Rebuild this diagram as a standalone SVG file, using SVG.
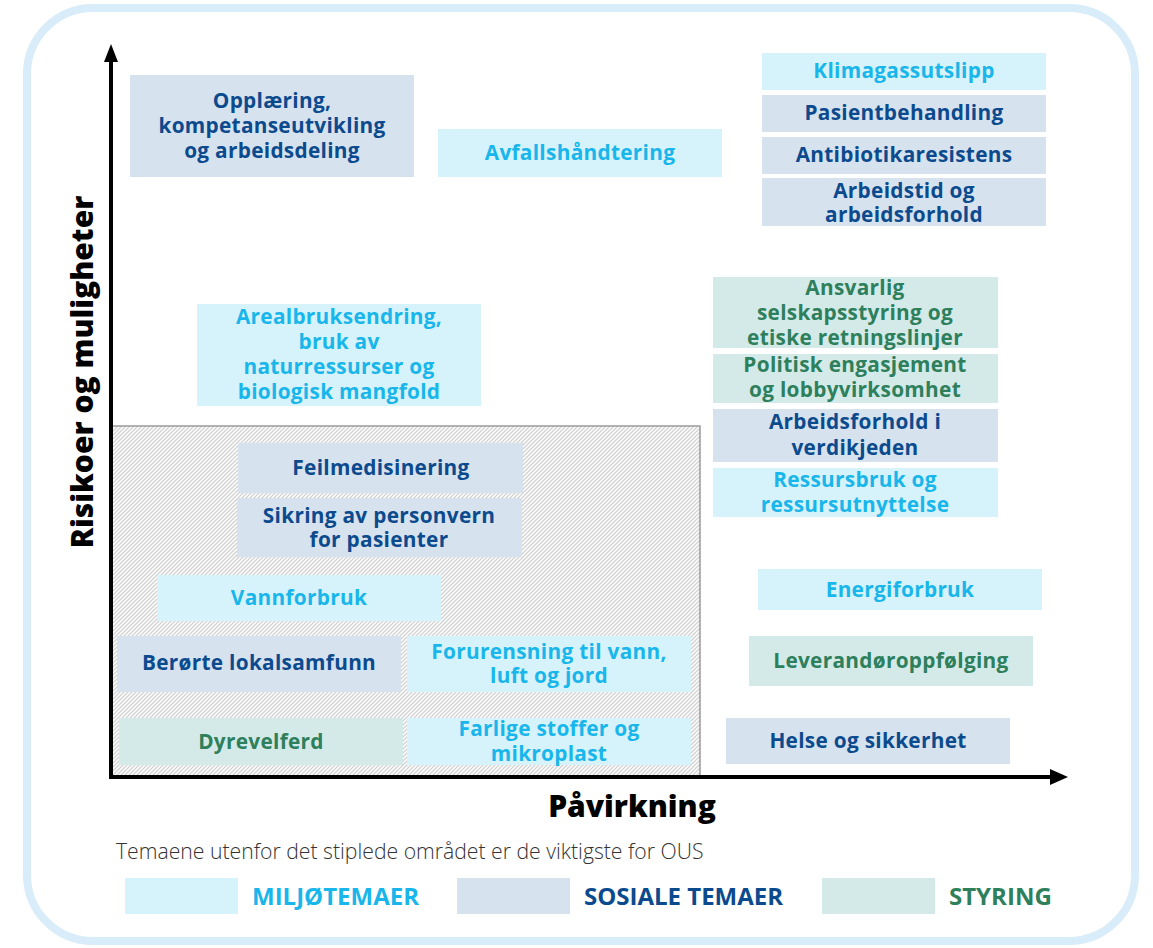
<svg xmlns="http://www.w3.org/2000/svg" width="1153" height="948" viewBox="0 0 1153 948">
<defs>
<style>
.t{font-family:"Open Sans","Liberation Sans",sans-serif;font-weight:700;font-size:20.8px;text-anchor:middle;letter-spacing:0.3px}
.env rect{fill:#d6f2fa}.env text{fill:#18b6ea}
.soc rect{fill:#d6e2ee}.soc text{fill:#0c4a8e}
.gov rect{fill:#d3eae9}.gov text{fill:#2e7f5c}
.ax{stroke:#000;stroke-width:4;fill:none}
.lg{font-family:"Open Sans","Liberation Sans",sans-serif;font-weight:700;font-size:24px}
</style>
<pattern id="hatch" width="4" height="4" patternUnits="userSpaceOnUse">
<rect width="4" height="4" fill="#fff"/>
<path d="M-1,5 L5,-1 M-1,1 L1,-1 M3,5 L5,3" stroke="#d2d2d2" stroke-width="1.3"/>
</pattern>
</defs>
<rect x="0" y="0" width="1153" height="948" fill="#fff"/>
<rect x="27" y="8" width="1108" height="933" rx="66" ry="66" fill="#fff" stroke="#d9ecf9" stroke-width="8"/>

<g id="nonmaterial-zone">
<rect x="111" y="426" width="589" height="350" fill="url(#hatch)" stroke="#9a9a9a" stroke-width="1.5"/>
</g>

<g id="connectors">
<line class="ax" x1="111" y1="778" x2="111" y2="60"/>
<path d="M104,62 L111,44 L118,62 Z" fill="#000"/>
<line class="ax" x1="109" y1="777" x2="1052" y2="777"/>
<path d="M1050,769 L1068,777 L1050,785 Z" fill="#000"/>
</g>

<g id="n1" class="soc"><rect x="130" y="75" width="284" height="102"/>
<text class="t"><tspan x="272" y="108">Opplæring,</tspan><tspan x="272" y="133">kompetanseutvikling</tspan><tspan x="272" y="158">og arbeidsdeling</tspan></text></g>
<g id="n2" class="env"><rect x="438" y="129" width="284" height="48"/>
<text class="t" x="580" y="160">Avfallshåndtering</text></g>
<g id="n3" class="env"><rect x="762" y="53" width="284" height="37"/>
<text class="t" x="904" y="78">Klimagassutslipp</text></g>
<g id="n4" class="soc"><rect x="762" y="95" width="284" height="37"/>
<text class="t" x="904" y="120">Pasientbehandling</text></g>
<g id="n5" class="soc"><rect x="762" y="137" width="284" height="37"/>
<text class="t" x="904" y="162">Antibiotikaresistens</text></g>
<g id="n6" class="soc"><rect x="762" y="178" width="284" height="48"/>
<text class="t"><tspan x="904" y="198">Arbeidstid og</tspan><tspan x="904" y="222">arbeidsforhold</tspan></text></g>
<g id="n7" class="gov"><rect x="713" y="277" width="285" height="71"/>
<text class="t"><tspan x="855" y="295">Ansvarlig</tspan><tspan x="855" y="320">selskapsstyring og</tspan><tspan x="855" y="345">etiske retningslinjer</tspan></text></g>
<g id="n8" class="gov"><rect x="713" y="354" width="285" height="49"/>
<text class="t"><tspan x="855" y="372">Politisk engasjement</tspan><tspan x="855" y="397">og lobbyvirksomhet</tspan></text></g>
<g id="n9" class="soc"><rect x="713" y="409" width="285" height="53"/>
<text class="t"><tspan x="855" y="429">Arbeidsforhold i</tspan><tspan x="855" y="455">verdikjeden</tspan></text></g>
<g id="n10" class="env"><rect x="713" y="468" width="285" height="49"/>
<text class="t"><tspan x="855" y="487">Ressursbruk og</tspan><tspan x="855" y="512">ressursutnyttelse</tspan></text></g>
<g id="n11" class="env"><rect x="197" y="304" width="284" height="102"/>
<text class="t"><tspan x="339" y="324">Arealbruksendring,</tspan><tspan x="339" y="349">bruk av</tspan><tspan x="339" y="374">naturressurser og</tspan><tspan x="339" y="399">biologisk mangfold</tspan></text></g>
<g id="n12" class="soc"><rect x="238" y="443" width="285" height="50"/>
<text class="t" x="381" y="475">Feilmedisinering</text></g>
<g id="n13" class="soc"><rect x="237" y="498" width="285" height="59"/>
<text class="t"><tspan x="379" y="523">Sikring av personvern</tspan><tspan x="379" y="547">for pasienter</tspan></text></g>
<g id="n14" class="env"><rect x="157" y="575" width="284" height="46"/>
<text class="t" x="299" y="605">Vannforbruk</text></g>
<g id="n15" class="soc"><rect x="117" y="636" width="284" height="56"/>
<text class="t" x="259" y="670">Berørte lokalsamfunn</text></g>
<g id="n16" class="env"><rect x="407" y="636" width="284" height="56"/>
<text class="t"><tspan x="549" y="659">Forurensning til vann,</tspan><tspan x="549" y="683">luft og jord</tspan></text></g>
<g id="n17" class="gov"><rect x="119" y="718" width="284" height="47"/>
<text class="t" x="261" y="749">Dyrevelferd</text></g>
<g id="n18" class="env"><rect x="407" y="718" width="284" height="47"/>
<text class="t"><tspan x="549" y="736">Farlige stoffer og</tspan><tspan x="549" y="761">mikroplast</tspan></text></g>
<g id="n19" class="env"><rect x="758" y="569" width="284" height="41"/>
<text class="t" x="900" y="597">Energiforbruk</text></g>
<g id="n20" class="gov"><rect x="749" y="636" width="284" height="50"/>
<text class="t" x="891" y="668">Leverandøroppfølging</text></g>
<g id="n21" class="soc"><rect x="726" y="718" width="284" height="46"/>
<text class="t" x="868" y="748">Helse og sikkerhet</text></g>

<g id="axis-labels">
<text x="632" y="817" font-family="'Open Sans','Liberation Sans',sans-serif" font-weight="800" font-size="30" text-anchor="middle" fill="#000">Påvirkning</text>
<text transform="translate(93,372) rotate(-90)" font-family="'Open Sans','Liberation Sans',sans-serif" font-weight="800" font-size="30" text-anchor="middle" fill="#000">Risikoer og muligheter</text>
</g>

<text x="116" y="859" font-family="'Open Sans','Liberation Sans',sans-serif" font-weight="300" font-size="21.2" fill="#333">Temaene utenfor det stiplede området er de viktigste for OUS</text>

<g id="legend">
<rect x="125" y="878" width="113" height="36" fill="#d6f2fa"/>
<text class="lg" x="252" y="905" fill="#18b6ea">MILJØTEMAER</text>
<rect x="457" y="878" width="113" height="36" fill="#d6e2ee"/>
<text class="lg" x="584" y="905" fill="#0c4a8e">SOSIALE TEMAER</text>
<rect x="822" y="878" width="113" height="36" fill="#d3eae9"/>
<text class="lg" x="949" y="905" fill="#2e7f5c">STYRING</text>
</g>
</svg>
